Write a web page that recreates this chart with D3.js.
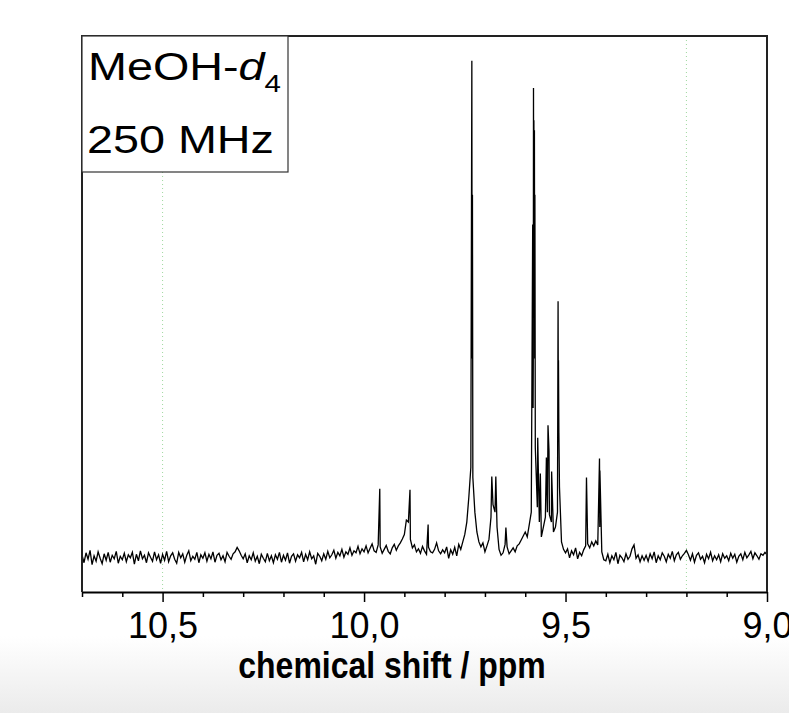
<!DOCTYPE html>
<html lang="en">
<head>
  <meta charset="utf-8">
  <title>1H NMR spectrum</title>
  <script src="https://cdn.jsdelivr.net/npm/d3@7"></script>
  <style>
    body { margin: 0; background: #fff; }
    text { font-family: "Liberation Sans", Arial, sans-serif; fill: #000; }
  </style>
</head>
<body>
  <script>
    // spectrum trace, sampled every 0.005 ppm from 10.70 down to 9.00
    let shiftStart = 10.70, shiftStep = 0.005;
    let trace = [
      0.4, -1.2, 0.8, -0.5, 1.3, -1.6, 0.2, -0.9, 1.0, -0.3, -1.4, 0.6, -0.7, 0.9, -1.1, 0.3, -0.4, 1.1, -1.3, 0.1,
      -0.6, 0.7, -1.0, 0.4, -0.2, 0.9, -1.5, 0.5, -0.8, 1.2, -0.4, 0.3, -1.2, 0.8, -0.1, -0.9, 1.0, -0.6, 0.4, -1.3,
      0.5, -0.7, 1.1, -1.0, 0.2, 0.8, -0.5, -1.3, 0.9, -0.2, 0.6, -1.1, 0.3, 1.2, -0.8, 0.1, -0.5, 0.9, -1.2, 0.4,
      -0.3, 0.8, -0.9, 0.5, -0.4, 1.0, -1.1, 0.3, 0.7, -0.6, 0.2, -1.0, 0.9, 0.1, -0.5, 0.6, 1.0, 1.9, 1.2, 0.3,
      -0.4, 0.6, -1.2, 0.2, -0.6, 0.8, -0.9, 0.1, -1.4, 0.5, -0.3, -1.0, 0.7, -0.8, 0.2, -1.2, 0.4, -0.5, 0.9, -1.1,
      0.3, -0.7, 0.8, -1.3, 0.1, 0.6, -0.9, 0.4, -0.2, 0.9, -1.0, 0.5, -0.6, 1.0, -0.4, 0.2, -1.5, 0.7, 0.1, -0.8,
      0.6, -0.5, 1.1, -0.2, 0.4, 1.3, -0.3, 0.9, 0.2, 1.5, -0.1, 1.0, 0.5, 1.8, 0.3, 1.2, 0.8, 2.1, 0.6, 1.6,
      1.0, 2.2, 0.8, 1.7, 2.6, 1.2, 0.9, 2.4, 2.0, 0.7, 1.5, 2.3, 1.1, 0.6, 1.8, 2.5, 1.3, 2.2, 2.8, 3.6,
      4.5, 7.4, 7.0, 3.5, 1.8, 2.4, 1.0, 1.6, 0.7, 2.1, 1.2, 0.5, 1.9, 1.0, 0.8, 1.5, 2.8, 1.2, 0.6, 1.4,
      0.8, 2.0, -0.3, 1.4, 0.5, 1.9, 0.2, 2.5, 1.5, 3.0, 4.5, 7.0, 12.0, 18.0, 16.0, 9.0, 5.0, 3.0, 2.0, 2.8,
      1.0, 2.2, 3.5, 8.0, 10.5, 9.0, 6.0, 1.5, 0.3, 0.8, 2.5, 2.0, 0.6, 1.2, 1.8, 1.0, 2.2, 2.6, 3.4, 4.2,
      5.0, 4.0, 6.5, 9.0, 40.0, 22.0, 10.0, 7.0, 4.0, 6.0, 8.0, 9.0, 8.5, 7.0, 5.0, 6.0, 9.0, 14.0, 3.0, 1.5,
      0.8, 1.6, -0.2, 1.2, 0.4, 1.8, -0.4, 0.9, 0.2, 1.4, 2.2, 2.6, 1.8, 3.0, 2.2, 3.2, 2.4, 6.0, 1.0, -0.6,
      -0.8, 0.5, -1.2, 0.2, -0.6, 0.9, -1.4, 0.3, -0.2, -1.0, 0.6, -0.5, 0.1, 1.6, 2.4, -0.3, 0.4, -1.0, 0.2, -0.7,
      0.3, -0.9, 0.6, -0.4, 1.0, -1.2, 0.2, -0.6, 0.8, 0.1, -1.0, 0.5, -0.3, 1.1, -0.8, 0.4, 0.9, -0.5, 0.2, 0.7,
      1.3, 0.4, -0.7, 0.6, -1.1, 0.3, 0.8, -0.5, 0.1, -1.2, 0.5, -0.4, 0.9, -0.8, 0.2, -0.6, 0.4, -1.0, 0.6, -0.3,
      0.2, -0.8, 0.7, -0.3, 0.5, -1.1, 0.1, 0.6, -0.6, 0.9, -0.2, 0.4, 1.1, -0.4, 0.8, 0.2, -0.5, 0.6, 0.3, 0.9,
      0.4
    ];
    // sharp lines that fall between the samples
    let peakShifts = [
      9.961, 9.886, 9.841,
      9.7325, 9.7318, 9.731,
      9.683, 9.673, 9.648,
      9.5815, 9.5805, 9.5795, 9.579, 9.5785, 9.578, 9.5772, 9.5765, 9.576,
      9.569, 9.5625, 9.5475, 9.5435, 9.541, 9.5345,
      9.5185, 9.518, 9.5175, 9.5165,
      9.448, 9.4157, 9.4152, 9.4147
    ];
    let peakHeights = [
      13.7, 13.5, 6.5,
      100, 40, 73,
      16.2, 16.2, 5.9,
      67, 30, 94.5, 60, 88, 50, 86, 40, 73,
      24, 16.8, 20, 26.5, 21.4, 17.2,
      51.5, 35, 39.6, 25,
      16, 19.8, 12, 17.4
    ];
    let majorTicks = [10.5, 10.0, 9.5, 9.0];
    let minorTicks = [10.7, 10.6, 10.4, 10.3, 10.2, 10.1, 9.9, 9.8, 9.7, 9.6, 9.4, 9.3, 9.2, 9.1];
    let gridShifts = [10.5, 9.2];

    let svgWidth = 789, svgHeight = 713;
    let margins = { left: 82, top: 36, right: 22, bottom: 121 };
    let plotBottom = svgHeight - margins.bottom;

    let svg = d3.select("body").append("svg")
      .attr("width", svgWidth)
      .attr("height", svgHeight);

    // soft grey band at the bottom of the figure
    let grad = svg.append("defs").append("linearGradient")
      .attr("id", "fade").attr("x1", 0).attr("x2", 0).attr("y1", 0).attr("y2", 1);
    grad.append("stop").attr("offset", "0%").attr("stop-color", "#ffffff");
    grad.append("stop").attr("offset", "100%").attr("stop-color", "#ebebeb");
    svg.append("rect")
      .attr("x", 0).attr("y", 636)
      .attr("width", svgWidth).attr("height", svgHeight - 636)
      .attr("fill", "url(#fade)");

    let xScale = d3.scaleLinear()
      .domain([10.7, 9.0])
      .range([margins.left, svgWidth - margins.right]);
    let yScale = d3.scaleLinear()
      .domain([-7.1, 105])
      .range([plotBottom, margins.top]);

    // dotted green grid lines
    svg.selectAll(".grid").data(gridShifts).join("line")
      .attr("class", "grid")
      .attr("x1", d => xScale(d)).attr("x2", d => xScale(d))
      .attr("y1", margins.top).attr("y2", plotBottom)
      .attr("stroke", "#9fd89f")
      .attr("stroke-width", 1)
      .attr("stroke-dasharray", "1,3");

    // merge the sampled trace with the narrow lines
    let points = trace.map((v, i) => [shiftStart - i * shiftStep, v]);
    peakShifts.forEach((s, i) => points.push([s, peakHeights[i]]));
    points.sort((a, b) => b[0] - a[0]);

    let line = d3.line()
      .x(d => xScale(d[0]))
      .y(d => yScale(d[1]));
    svg.append("path")
      .datum(points)
      .attr("d", line)
      .attr("fill", "none")
      .attr("stroke", "#000")
      .attr("stroke-width", 1.3);

    // minor ticks
    let minorAxis = d3.axisBottom(xScale)
      .tickValues(minorTicks)
      .tickSize(5)
      .tickFormat("");
    svg.append("g")
      .attr("transform", `translate(0, ${plotBottom})`)
      .call(minorAxis)
      .call(g => g.select(".domain").remove())
      .selectAll("line").attr("stroke", "#000").attr("stroke-width", 1.5);

    // major ticks with comma decimals
    let majorAxis = d3.axisBottom(xScale)
      .tickValues(majorTicks)
      .tickSize(10)
      .tickSizeOuter(0)
      .tickPadding(10)
      .tickFormat(d => d.toFixed(1).replace(".", ","));
    let xAxisG = svg.append("g")
      .attr("transform", `translate(0, ${plotBottom})`)
      .call(majorAxis);
    xAxisG.select(".domain").attr("stroke", "#000").attr("stroke-width", 2);
    xAxisG.selectAll("line").attr("stroke", "#000").attr("stroke-width", 1.5);
    xAxisG.selectAll("text")
      .attr("font-size", 36)
      .attr("font-family", "Liberation Sans, Arial, sans-serif");

    // frame: left, top and right sides
    svg.append("path")
      .attr("d", `M${margins.left},${plotBottom}V${margins.top}H${svgWidth - margins.right}V${plotBottom}`)
      .attr("fill", "none")
      .attr("stroke", "#222")
      .attr("stroke-width", 2);

    // solvent / field label box
    svg.append("rect")
      .attr("x", margins.left).attr("y", margins.top)
      .attr("width", 206).attr("height", 136)
      .attr("fill", "#fff")
      .attr("stroke", "#333")
      .attr("stroke-width", 1.2);
    let solvent = svg.append("text")
      .attr("transform", "translate(88, 80) scale(1.23, 1)")
      .attr("font-size", 38);
    solvent.append("tspan").text("MeOH-");
    solvent.append("tspan").text("d").attr("font-style", "italic");
    solvent.append("tspan").text("4").attr("font-size", 24).attr("dy", 12);
    svg.append("text")
      .attr("transform", "translate(87, 153) scale(1.23, 1)")
      .attr("font-size", 38)
      .text("250 MHz");

    // x label
    svg.append("text")
      .attr("transform", "translate(392, 678) scale(1, 1.15)")
      .attr("text-anchor", "middle")
      .attr("font-size", 32)
      .attr("font-weight", "bold")
      .text("chemical shift / ppm");
  </script>
</body>
</html>
